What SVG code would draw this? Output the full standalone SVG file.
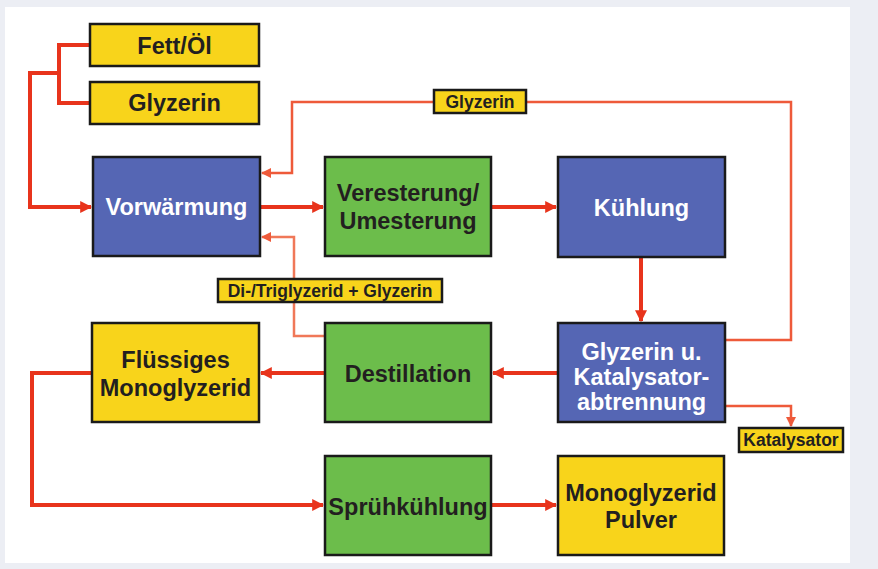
<svg xmlns="http://www.w3.org/2000/svg" width="878" height="569" viewBox="0 0 878 569">
<defs>
<marker id="ah" viewBox="0 0 10 10" refX="9" refY="5" markerWidth="3" markerHeight="3" orient="auto" markerUnits="strokeWidth"><path d="M0,0 L10,5 L0,10 z" fill="#e8341c"/></marker>
<marker id="ahs" viewBox="0 0 10 10" refX="9" refY="5" markerWidth="4" markerHeight="4" orient="auto" markerUnits="strokeWidth"><path d="M0,0 L10,5 L0,10 z" fill="#ee5a3a"/></marker>
</defs>
<style>
.box{stroke:#1a1a1a;stroke-width:2.5}
.blue{fill:#5566b4}
.green{fill:#6cbd4b}
.yellow{fill:#f8d41b}
.t{font-family:"Liberation Sans",Arial,sans-serif;font-weight:bold;font-size:23.5px;text-anchor:middle}
.w{fill:#ffffff}
.d{fill:#231f20}
.s{font-size:17.5px}
.main{fill:none;stroke:#e8341c;stroke-width:4;stroke-linejoin:miter}
.thin{fill:none;stroke:#ee5a3a;stroke-width:2.5}
.thinb{fill:none;stroke:#f07858;stroke-width:2.5}
</style>
<rect x="0" y="0" width="878" height="569" fill="#eceef4"/>
<rect x="5" y="7" width="845" height="556" fill="#ffffff"/>

<g id="connectors">
<path class="main" d="M90,45 H59 V103 H90"/>
<path class="main" d="M59,73 H30 V207 H91" marker-end="url(#ah)"/>
<path class="main" d="M260,207 H323" marker-end="url(#ah)"/>
<path class="main" d="M491,207 H556" marker-end="url(#ah)"/>
<path class="main" d="M641,257 V321" marker-end="url(#ah)"/>
<path class="main" d="M558,373 H493" marker-end="url(#ah)"/>
<path class="main" d="M325,373 H261" marker-end="url(#ah)"/>
<path class="main" d="M92,373 H32 V505 H323" marker-end="url(#ah)"/>
<path class="main" d="M491,505 H556" marker-end="url(#ah)"/>
<path class="thin" d="M725,340 H791 V102 H292 V173 H262" marker-end="url(#ahs)"/>
<path class="thin" d="M725,406 H791 V426" marker-end="url(#ahs)"/>
<path class="thinb" d="M325,336 H294 V237 H262" marker-end="url(#ahs)"/>
</g>

<g id="fett">
<rect class="box yellow" x="90" y="24" width="169" height="42"/>
<text class="t d" x="174.5" y="54">Fett/Öl</text>
</g>
<g id="glyzerin">
<rect class="box yellow" x="90" y="82" width="169" height="42"/>
<text class="t d" x="174.5" y="111">Glyzerin</text>
</g>
<g id="vorwaermung">
<rect class="box blue" x="93" y="157" width="167" height="99"/>
<text class="t w" x="176.5" y="215">Vorwärmung</text>
</g>
<g id="veresterung">
<rect class="box green" x="325" y="157" width="166" height="99"/>
<text class="t d" x="408" y="201">Veresterung/</text>
<text class="t d" x="408" y="229">Umesterung</text>
</g>
<g id="kuehlung">
<rect class="box blue" x="558" y="157" width="167" height="100"/>
<text class="t w" x="641.5" y="216">Kühlung</text>
</g>
<g id="abtrennung">
<rect class="box blue" x="558" y="323" width="167" height="99"/>
<text class="t w" x="641.5" y="360">Glyzerin u.</text>
<text class="t w" x="641.5" y="385">Katalysator-</text>
<text class="t w" x="641.5" y="410">abtrennung</text>
</g>
<g id="destillation">
<rect class="box green" x="325" y="323" width="166" height="99"/>
<text class="t d" x="408" y="382">Destillation</text>
</g>
<g id="fluessig">
<rect class="box yellow" x="92" y="323" width="167" height="99"/>
<text class="t d" x="175.5" y="368">Flüssiges</text>
<text class="t d" x="175.5" y="396">Monoglyzerid</text>
</g>
<g id="spruehkuehlung">
<rect class="box green" x="325" y="456" width="166" height="99"/>
<text class="t d" x="408" y="515">Sprühkühlung</text>
</g>
<g id="pulver">
<rect class="box yellow" x="558" y="456" width="166" height="99"/>
<text class="t d" x="641" y="501">Monoglyzerid</text>
<text class="t d" x="641" y="528">Pulver</text>
</g>
<g id="lbl-glyzerin">
<rect class="box yellow" x="434" y="90" width="92" height="23" stroke-width="2"/>
<text class="t d s" x="480" y="108">Glyzerin</text>
</g>
<g id="lbl-ditri">
<rect class="box yellow" x="218" y="279" width="224" height="23" stroke-width="2"/>
<text class="t d s" x="330" y="297">Di-/Triglyzerid + Glyzerin</text>
</g>
<g id="lbl-katalysator">
<rect class="box yellow" x="739" y="428" width="104" height="24" stroke-width="2"/>
<text class="t d s" x="791" y="446">Katalysator</text>
</g>
</svg>
